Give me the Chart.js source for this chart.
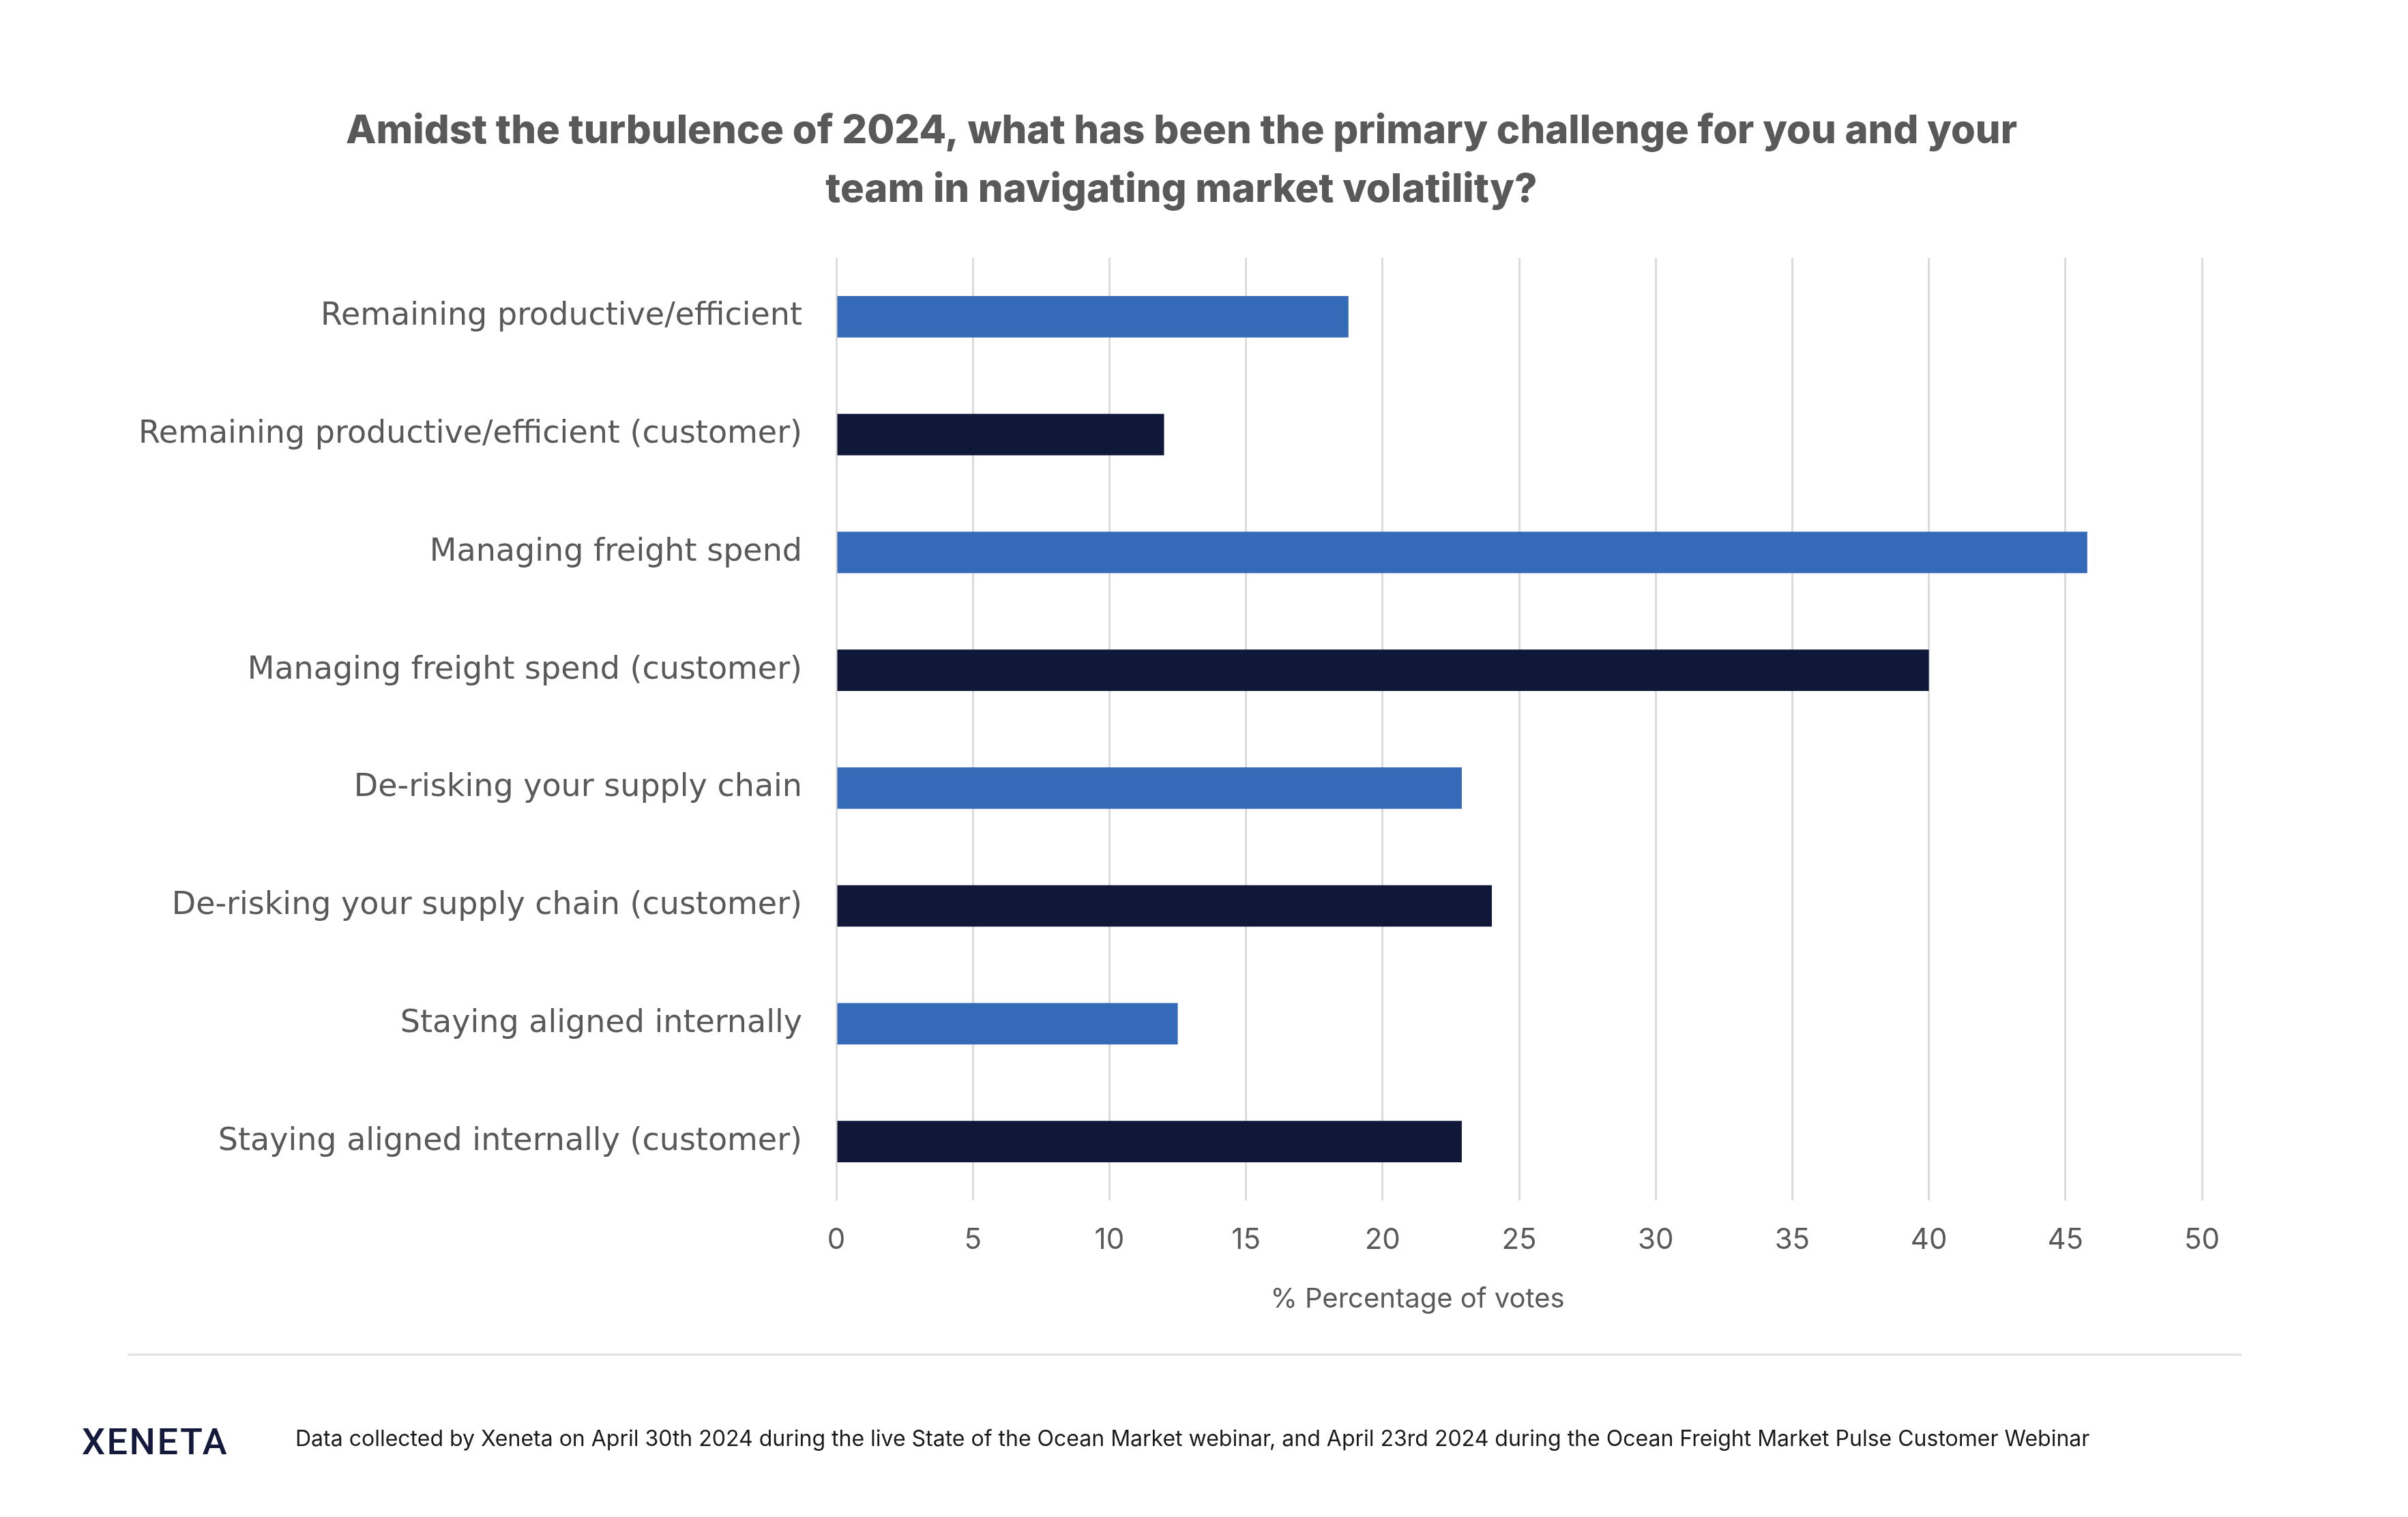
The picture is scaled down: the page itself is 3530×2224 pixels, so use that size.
<!DOCTYPE html>
<html>
<head>
<meta charset="utf-8">
<script src="https://cdn.jsdelivr.net/npm/chart.js@4.4.1/dist/chart.umd.min.js"></script>
<style>
  html, body { margin: 0; padding: 0; background: #ffffff; }
  #wrap { width: 3530px; height: 2224px; }
</style>
</head>
<body>
<div id="wrap"><canvas id="c" width="3530" height="2224"></canvas></div>
<script>
// ---- Data ----
const categories = [
  "Remaining productive/efficient",
  "Remaining productive/efficient (customer)",
  "Managing freight spend",
  "Managing freight spend (customer)",
  "De-risking your supply chain",
  "De-risking your supply chain (customer)",
  "Staying aligned internally",
  "Staying aligned internally (customer)"
];
const webinarValues  = [18.75, null, 45.8, null, 22.9, null, 12.5, null];
const customerValues = [null, 12.0, null, 40.0, null, 24.0, null, 22.9];
const xMin = 0, xMax = 50, xStep = 5;

const titleLines = [
  "Amidst the turbulence of 2024, what has been the primary challenge for you and your",
  "team in navigating market volatility?"
];
const xAxisTitle = "% Percentage of votes";
const logoText = "XENETA";
const footnote = "Data collected by Xeneta on April 30th 2024 during the live State of the Ocean Market webinar, and April 23rd 2024 during the Ocean Freight Market Pulse Customer Webinar";

// ---- Styles ----
const BLUE = "#346ab7";
const NAVY = "#10183a";
const GREY_TEXT = "#595959";
const GRID = "#dcdcdc";

const extrasPlugin = {
  id: "extras",
  afterDraw(chart) {
    const ctx = chart.ctx;
    const ca = chart.chartArea;
    ctx.save();
    // x-axis title
    ctx.fillStyle = GREY_TEXT;
    ctx.font = "400 40px Inter";
    ctx.textAlign = "center";
    ctx.textBaseline = "middle";
    ctx.fillText(xAxisTitle, ca.left + 0.4256 * (ca.right - ca.left), 1905);
    // separator
    ctx.strokeStyle = "#e0e0e0";
    ctx.lineWidth = 3;
    ctx.beginPath();
    ctx.moveTo(187, 1986);
    ctx.lineTo(3286, 1986);
    ctx.stroke();
    // logo
    ctx.fillStyle = "#141a3b";
    ctx.textAlign = "left";
    ctx.textBaseline = "alphabetic";
    ctx.font = "500 54px Roboto";
    if ("letterSpacing" in ctx) ctx.letterSpacing = "2.5px";
    ctx.fillText(logoText, 120, 2132);
    if ("letterSpacing" in ctx) ctx.letterSpacing = "0px";
    // footnote
    ctx.fillStyle = "#1a1a1a";
    ctx.font = "400 32px Inter";
    ctx.fillText(footnote, 433, 2120);
    ctx.restore();
  }
};

new Chart(document.getElementById("c"), {
  type: "bar",
  data: {
    labels: categories,
    datasets: [
      { label: "Webinar", data: webinarValues, backgroundColor: BLUE, grouped: false,
        barPercentage: 0.353, categoryPercentage: 1.0 },
      { label: "Customer", data: customerValues, backgroundColor: NAVY, grouped: false,
        barPercentage: 0.353, categoryPercentage: 1.0 }
    ]
  },
  options: {
    indexAxis: "y",
    responsive: false,
    animation: false,
    devicePixelRatio: 1,
    layout: { padding: { left: 150, right: 216, top: 0, bottom: 238 } },
    plugins: {
      legend: { display: false },
      tooltip: { enabled: false },
      title: {
        display: true,
        text: titleLines,
        color: GREY_TEXT,
        font: { family: "Inter", size: 58, weight: "800", lineHeight: 86 / 58 },
        padding: { top: 150, bottom: 56 }
      }
    },
    scales: {
      x: {
        type: "linear",
        min: xMin, max: xMax,
        ticks: { stepSize: xStep, color: GREY_TEXT, font: { family: "Inter", size: 42 }, padding: 33 },
        grid: { color: GRID, lineWidth: 3, drawTicks: false },
        border: { display: false },
        afterFit(scale) { scale.height = 226; scale.paddingRight = 302; }
      },
      y: {
        type: "category",
        ticks: { color: GREY_TEXT, font: { family: "DejaVu Sans", size: 46 }, padding: 50, autoSkip: false },
        grid: { display: false, drawTicks: false },
        border: { display: false },
        afterFit(scale) { scale.width = 1076; }
      }
    }
  },
  plugins: [extrasPlugin]
});
</script>
</body>
</html>
